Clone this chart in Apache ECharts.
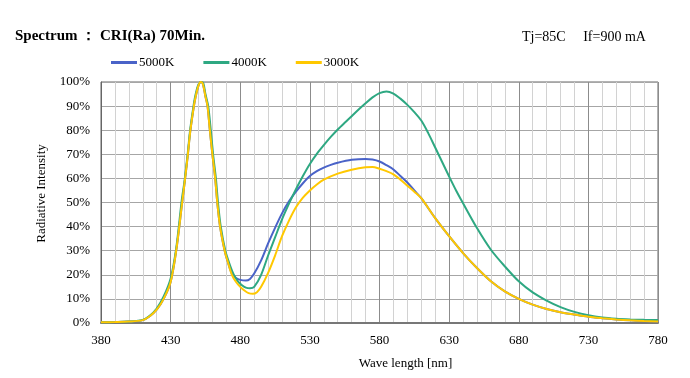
<!DOCTYPE html>
<html>
<head>
<meta charset="utf-8">
<script src="https://cdn.jsdelivr.net/npm/echarts@6/dist/echarts.min.js"></script>
<style>
html,body{margin:0;padding:0;background:#fff;}
#c{width:690px;height:378px;}
</style>
</head>
<body>
<div id="c"></div>
<script>
var seriesNames = ['5000K', '4000K', '3000K'];
var xTicks = [380, 430, 480, 530, 580, 630, 680, 730, 780];
var yTicks = [0, 10, 20, 30, 40, 50, 60, 70, 80, 90, 100];

var wl5000 = [380,390,400,410,415,420,425,430,434,438.3,440,442.4,444,446.7,448,450,451.5,453,455,456.5,458,460,462,463.5,465.5,468.8,471,474,477,480,484,487,490,495,500,505,510,515,520,525,530,535,540,545,550,560,570,575,580,585,590,595,600,605,610,620,630,640,650,660,670,680,690,700,710,720,730,740,750,760,770,780];
var val5000 = [0.3,0.4,0.6,1.2,2.8,5.5,10,17,30,50,58,70,79,90,94,98.5,100,99.5,94,90,81,70,60,50,40,30,25.5,20.5,18.7,17.9,17.6,18.3,20.5,26,33,39.5,45.5,50.5,54.5,58,61,63,64.5,65.6,66.5,67.7,68.1,67.8,67,65.5,63.7,61,58.3,55,51.8,43.5,36,29,22.8,17.3,13.1,10,7.6,5.8,4.5,3.5,2.6,2,1.5,1.1,0.8,0.6];

var wl4000 = [380,390,400,410,415,420,425,430,434,438,440,442.4,444,446.7,448,450,452,453.5,455,457,458.5,460.5,462.5,464,466,469.3,472,475,478,481,484,487,490,495,500,505,510,515,520,525,530,535,540,545,550,555,560,565,570,575,580,585,590,595,600,605,610,615,620,625,630,635,640,650,660,670,680,690,700,710,720,730,740,750,760,770,780];
var val4000 = [0.3,0.4,0.6,1.3,3,6,11,18.5,31,51,59,71,80,91,95,99,100,99.5,95,90,82,70,60,50,40,30,25,20.5,17.5,15.8,14.7,14.4,15,20,28,35.5,43,49.5,55.5,61,66,70.2,73.8,77.2,80.3,83.1,85.8,88.6,91.2,93.6,95.4,96.1,95.2,93.1,90.5,87.5,84,78.8,72.8,66.8,60.8,55,49.7,39.4,30.4,23.5,17.3,12.7,9.3,6.6,4.6,3.2,2.3,1.8,1.5,1.3,1.2];

var wl3000 = [380,390,400,410,415,420,425,430,434,438.3,440,442.4,444,446.7,448,450,451.5,453,455,456.5,458,460,462,463.5,465.5,468.8,471,474,477,480,483,486,489,492,495,500,505,510,515,520,525,530,535,540,550,560,570,575,580,585,590,595,600,605,610,620,630,640,650,660,670,680,690,700,710,720,730,740,750,760,770,780];
var val3000 = [0.3,0.4,0.6,1.2,2.8,5.5,10,17,30,50,58,70,79,90,94,98.5,100,99.5,94,90,81,70,60,50,40,30,25.5,20,17,15,13.5,12.4,12.1,12.8,15,20.8,28,36,42.5,48,52,55,57.5,59.5,62,63.6,64.6,64.7,64,63,61.7,59.5,57,54.5,51.8,43.5,36,29,22.8,17.3,13.1,10,7.6,5.8,4.5,3.5,2.6,2,1.5,1.1,0.8,0.6];

var colors = ['#4a63c8', '#2ea882', '#ffc800'];

function pairs(xs, ys) {
  return xs.map(function (x, i) { return [x, ys[i]]; });
}

var FONT = 'Liberation Serif';
var chart = echarts.init(document.getElementById('c'), null, {renderer: 'canvas'});
chart.setOption({
  animation: false,
  backgroundColor: '#fff',
  textStyle: {fontFamily: FONT, color: '#000'},
  title: [
    {text: 'Spectrum ： CRI(Ra) 70Min.', left: 10, top: 24,
     textStyle: {fontFamily: FONT, fontSize: 15, fontWeight: 'bold', color: '#000'}},
    {text: 'Tj=85C     If=900 mA', left: 517, top: 25,
     textStyle: {fontFamily: FONT, fontSize: 14, fontWeight: 'normal', color: '#000'}}
  ],
  legend: {
    data: seriesNames,
    left: 111, top: 56, padding: 0,
    icon: 'rect', itemWidth: 26, itemHeight: 3, itemGap: 29,
    textStyle: {fontFamily: FONT, fontSize: 13, color: '#000', padding: [0, 0, 0, -3]}
  },
  grid: {left: 101, right: 32, top: 82, bottom: 55, show: true, borderColor: '#666', borderWidth: 1, containLabel: false},
  xAxis: {
    type: 'value', min: xTicks[0], max: xTicks[xTicks.length - 1], interval: 50,
    name: 'Wave length [nm]', nameLocation: 'middle', nameGap: 34,
    nameTextStyle: {fontFamily: FONT, fontSize: 13, color: '#000', padding: [0, 0, 0, 52]},
    axisLine: {show: true, lineStyle: {color: '#777', width: 2}},
    axisTick: {show: false},
    axisLabel: {fontFamily: FONT, fontSize: 13, color: '#000', margin: 11},
    splitLine: {show: true, lineStyle: {color: '#8c8c8c', width: 1}},
    minorTick: {show: false, splitNumber: 5},
    minorSplitLine: {show: true, lineStyle: {color: '#d2d2d2', width: 1}}
  },
  yAxis: {
    type: 'value', min: yTicks[0], max: yTicks[yTicks.length - 1], interval: 10,
    name: 'Radiative Intensity', nameLocation: 'middle', nameGap: 53, nameRotate: 90,
    nameTextStyle: {fontFamily: FONT, fontSize: 13, color: '#000', padding: [0, 0, 0, 18]},
    axisLine: {show: true, lineStyle: {color: '#666', width: 1}},
    axisTick: {show: false},
    axisLabel: {fontFamily: FONT, fontSize: 13, color: '#000', margin: 11, formatter: '{value}%'},
    splitLine: {show: true, lineStyle: {color: '#a6a6a6', width: 1}}
  },
  series: [
    {name: seriesNames[0], type: 'line', data: pairs(wl5000, val5000), symbol: 'none', smooth: 0.3,
     lineStyle: {color: colors[0], width: 2}, itemStyle: {color: colors[0]}},
    {name: seriesNames[1], type: 'line', data: pairs(wl4000, val4000), symbol: 'none', smooth: 0.3,
     lineStyle: {color: colors[1], width: 2}, itemStyle: {color: colors[1]}},
    {name: seriesNames[2], type: 'line', data: pairs(wl3000, val3000), symbol: 'none', smooth: 0.3,
     lineStyle: {color: colors[2], width: 2}, itemStyle: {color: colors[2]}}
  ]
});
</script>
</body>
</html>
